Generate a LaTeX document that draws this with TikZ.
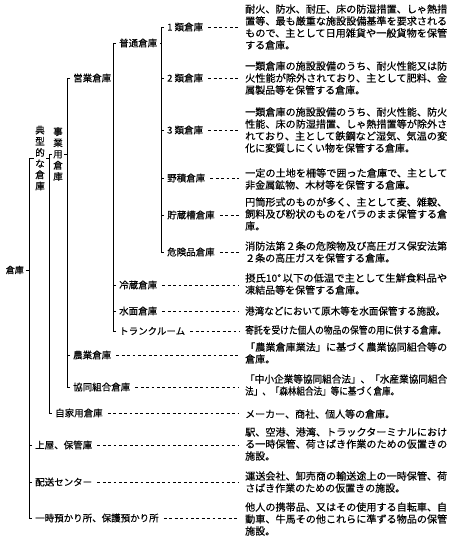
\documentclass[tikz,border=0pt]{standalone}
\usepackage{fontspec}
\setmainfont{Noto Sans CJK JP}[FakeBold=0.35]
\usepackage{graphicx}
\newcommand\jl[1]{\resizebox{202pt}{\height}{#1}}
\newcommand\jw[2]{\resizebox{#1}{\height}{#2}}
\begin{document}
\begin{tikzpicture}[x=1pt,y=-1pt,
  lab/.style={anchor=west,inner xsep=3pt,inner ysep=0pt,font=\fontsize{9.5}{11}\selectfont},
  desc/.style={anchor=west,inner sep=0pt,align=left,font=\fontsize{10}{12}\selectfont},
  vtext/.style={inner xsep=1.5pt,inner ysep=0pt,align=center,font=\fontsize{9.5}{11.2}\selectfont},
  tree/.style={line width=0.75pt},
  lead/.style={line width=0.6pt,dash pattern=on 2.8pt off 2.6pt,shorten <=2pt,shorten >=6pt}]
\useasboundingbox (0,0) rectangle (450,539);
\fill[white] (0,0) rectangle (450,539);
% vertical line positions
\coordinate (v1) at (29,0);
\coordinate (v2) at (49,0);
\coordinate (v3) at (67,0);
\coordinate (v4) at (113,0);
\coordinate (v5) at (161,0);
% tree labels
\node[lab,anchor=east,inner xsep=1.5pt,font=\fontsize{9}{11}\selectfont] (root) at (25.5,270) {倉庫};
\node[vtext] (tenkei) at (40,158) {典\\型\\的\\な\\倉\\庫};
\node[vtext] (jigyo) at (58,154) {事\\業\\用\\倉\\庫};
\node[lab] (uwaya) at (32,445) {上屋、保管庫};
\node[lab] (haiso) at (32,482) {配送センター};
\node[lab] (ichiji) at (32,518) {一時預かり所、保護預かり所};
\node[lab] (jika) at (52,413) {自家用倉庫};
\node[lab] (eigyo) at (70,78) {営業倉庫};
\node[lab] (nogyo) at (70,355) {農業倉庫};
\node[lab] (kyodo) at (70,387) {協同組合倉庫};
\node[lab] (futsu) at (116,43) {普通倉庫};
\node[lab] (reizo) at (116,285) {冷蔵倉庫};
\node[lab] (suimen) at (116,311) {水面倉庫};
\node[lab] (trunk) at (116,331) {トランクルーム};
\node[lab] (rui1) at (164,27) {1 類倉庫};
\node[lab] (rui2) at (164,78) {2 類倉庫};
\node[lab] (rui3) at (164,130) {3 類倉庫};
\node[lab] (noseki) at (164,178) {野積倉庫};
\node[lab] (chozo) at (164,215) {貯蔵槽倉庫};
\node[lab] (kiken) at (164,252) {危険品倉庫};
% descriptions
\node[desc] (d1) at (245,27) {\jl{耐火、防水、耐圧、床の防湿措置、しゃ熱措}\\\jl{置等、最も厳重な施設設備基準を要求される}\\\jl{もので、主として日用雑貨や一般貨物を保管}\\する倉庫。};
\node[desc] (d2) at (245,78) {\jl{一類倉庫の施設設備のうち、耐火性能又は防}\\\jl{火性能が除外されており、主として肥料、金}\\属製品等を保管する倉庫。};
\node[desc] (d3) at (245,130) {\jl{一類倉庫の施設設備のうち、耐火性能、防火}\\\jl{性能、床の防湿措置、しゃ熱措置等が除外さ}\\\jl{れており、主として鉄鋼など湿気、気温の変}\\化に変質しにくい物を保管する倉庫。};
\node[desc] (d4) at (245,179) {\jl{一定の土地を柵等で囲った倉庫で、主として}\\非金属鉱物、木材等を保管する倉庫。};
\node[desc] (d5) at (245,214) {\jl{円筒形式のものが多く、主として麦、雑穀、}\\\jl{飼料及び粉状のものをバラのまま保管する倉}\\庫。};
\node[desc] (d6) at (245,252) {\jl{消防法第２条の危険物及び高圧ガス保安法第}\\ ２条の高圧ガスを保管する倉庫。};
\node[desc] (d7) at (245,284) {\jl{摂氏10°\,以下の低温で主として生鮮食料品や}\\凍結品等を保管する倉庫。};
\node[desc] (d8) at (245,311) {\jw{200pt}{港湾などにおいて原木等を水面保管する施設。}};
\node[desc] (d9) at (245,330) {\jw{201pt}{寄託を受けた個人の物品の保管の用に供する倉庫。}};
\node[desc] (d10) at (245,353) {\jl{「農業倉庫業法」に基づく農業協同組合等の}\\倉庫。};
\node[desc] (d11) at (245,385) {\jl{「中小企業等協同組合法」、「水産業協同組合}\\\jw{154pt}{法」、「森林組合法」等に基づく倉庫。}};
\node[desc] (d12) at (245,414) {メーカー、商社、個人等の倉庫。};
\node[desc] (d13) at (245,444) {\jl{駅、空港、港湾、トラックターミナルにおけ}\\\jl{る一時保管、荷さばき作業のための仮置きの}\\施設。};
\node[desc] (d14) at (245,482) {\jl{運送会社、卸売商の輸送途上の一時保管、荷}\\さばき作業のための仮置きの施設。};
\node[desc] (d15) at (245,519) {\jl{他人の携帯品、又はその使用する自転車、自}\\\jl{動車、牛馬その他これらに準ずる物品の保管}\\施設。};
% tree connectors
\draw[tree] (root.east) -- (root.east -| v1);
\draw[tree] (tenkei.west) -- (tenkei.west -| v1) -- (ichiji.west -| v1) -- (ichiji.west);
\draw[tree] (uwaya.west) -- (uwaya.west -| v1);
\draw[tree] (haiso.west) -- (haiso.west -| v1);
\draw[tree] (tenkei.east) -- (tenkei.east -| v2);
\draw[tree] (jigyo.west) -- (jigyo.west -| v2) -- (jika.west -| v2) -- (jika.west);
\draw[tree] (jigyo.east) -- (jigyo.east -| v3);
\draw[tree] (eigyo.west) -- (eigyo.west -| v3) -- (kyodo.west -| v3) -- (kyodo.west);
\draw[tree] (nogyo.west) -- (nogyo.west -| v3);
\draw[tree] (futsu.west) -- (futsu.west -| v4) -- (trunk.west -| v4) -- (trunk.west);
\draw[tree] (reizo.west) -- (reizo.west -| v4);
\draw[tree] (suimen.west) -- (suimen.west -| v4);
\draw[tree] (futsu.east) -- (futsu.east -| v5);
\draw[tree] (rui1.west) -- (rui1.west -| v5) -- (kiken.west -| v5) -- (kiken.west);
\draw[tree] (rui2.west) -- (rui2.west -| v5);
\draw[tree] (rui3.west) -- (rui3.west -| v5);
\draw[tree] (noseki.west) -- (noseki.west -| v5);
\draw[tree] (chozo.west) -- (chozo.west -| v5);
% leader lines
\draw[lead] (rui1.east) -- (rui1.east -| d1.west);
\draw[lead] (rui2.east) -- (rui2.east -| d2.west);
\draw[lead] (rui3.east) -- (rui3.east -| d3.west);
\draw[lead] (noseki.east) -- (noseki.east -| d4.west);
\draw[lead] (chozo.east) -- (chozo.east -| d5.west);
\draw[lead] (kiken.east) -- (kiken.east -| d6.west);
\draw[lead] (reizo.east) -- (reizo.east -| d7.west);
\draw[lead] (suimen.east) -- (suimen.east -| d8.west);
\draw[lead] (trunk.east) -- (trunk.east -| d9.west);
\draw[lead] (nogyo.east) -- (nogyo.east -| d10.west);
\draw[lead] (kyodo.east) -- (kyodo.east -| d11.west);
\draw[lead] (jika.east) -- (jika.east -| d12.west);
\draw[lead] (uwaya.east) -- (uwaya.east -| d13.west);
\draw[lead] (haiso.east) -- (haiso.east -| d14.west);
\draw[lead] (ichiji.east) -- (ichiji.east -| d15.west);
\end{tikzpicture}
\end{document}
